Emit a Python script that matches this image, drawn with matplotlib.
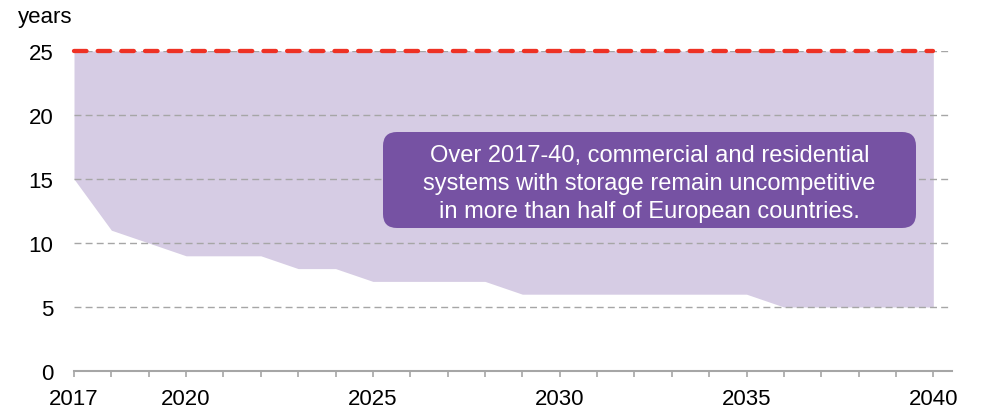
import matplotlib
matplotlib.use("Agg")
import matplotlib.pyplot as plt
from matplotlib.patches import FancyBboxPatch

plt.rcParams['font.family'] = ['Liberation Sans', 'DejaVu Sans']

years = list(range(2017, 2041))
lower = [15, 11, 10, 9, 9, 9, 8, 8, 7, 7, 7, 7, 6, 6, 6, 6, 6, 6, 6, 5, 5, 5, 5, 5]
upper = [25] * len(years)
xtick_labels = [2017, 2020, 2025, 2030, 2035, 2040]
yticks = [0, 5, 10, 15, 20, 25]
note = ("Over 2017-40, commercial and residential\n"
        "systems with storage remain uncompetitive\n"
        "in more than half of European countries.")

W, H = 982, 414
fig = plt.figure(figsize=(W / 100, H / 100), dpi=100)
ax = fig.add_axes([74 / W, 1 - 372 / H, (952 - 74) / W, (372 - 52) / H])

ax.fill_between(years, lower, upper, color='#D6CCE4', linewidth=0, zorder=1)
ax.plot(years, upper, color='#EE3124', linewidth=3.1, linestyle=(0, (2.9, 2.6)),
        dash_capstyle='round', zorder=3, clip_on=False)

ax.set_xlim(2017, 2040.5)
ax.set_ylim(0, 25)
ax.set_yticks(yticks)
ax.set_xticks(xtick_labels)
ax.set_xticks(years, minor=True)
ax.yaxis.grid(True, color='#A6A6A6', linestyle=(0, (5, 3)), linewidth=1)
ax.set_axisbelow(False)
for gl in ax.get_ygridlines():
    gl.set_zorder(2)

for s in ['top', 'right', 'left']:
    ax.spines[s].set_visible(False)
ax.spines['bottom'].set_color('#A6A6A6')
ax.spines['bottom'].set_linewidth(1.5)
ax.spines['bottom'].set_zorder(4)

ax.tick_params(axis='y', length=0, pad=15, labelsize=16)
ax.tick_params(axis='x', which='both', direction='out', color='#A6A6A6',
               length=4, width=1.2, pad=8, labelsize=16)

fig.text(18 / W, 1 - 18 / H, 'years', fontsize=16, ha='left', va='center')

# overlay in pixel coordinates for the annotation box
ov = fig.add_axes([0, 0, 1, 1])
ov.set_xlim(0, W)
ov.set_ylim(H, 0)
ov.axis('off')
bx0, by0, bx1, by1 = 383, 133, 916, 229
box = FancyBboxPatch((bx0, by0), bx1 - bx0, by1 - by0,
                     boxstyle='round,pad=0,rounding_size=14',
                     facecolor='#7652A3', edgecolor='none', zorder=5)
ov.add_patch(box)
ov.text((bx0 + bx1) / 2, (by0 + by1) / 2 + 3, note, color='white',
        fontsize=17, ha='center', va='center', linespacing=1.36, zorder=6)

fig.savefig('out.png', dpi=100)
